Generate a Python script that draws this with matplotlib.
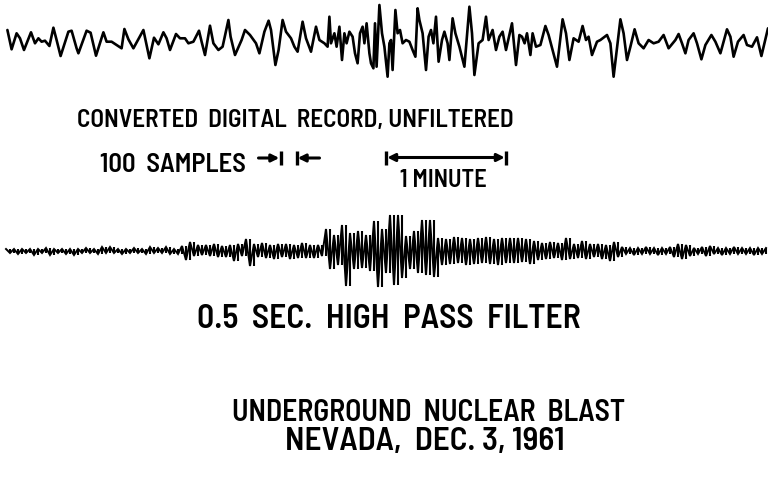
import numpy as np
import matplotlib
matplotlib.use("Agg")
import matplotlib.pyplot as plt
import matplotlib.font_manager as fm

# ---------------- data ----------------
# unfiltered record: time (s) and amplitude (arbitrary units)
raw_time_s = [0.7, 2.8, 5.3, 7, 9, 12.5, 14.5, 16.2, 17.8, 19.5, 21.7, 23.7, 25.3, 27.3, 31.2,
              32.8, 35.3, 36.2, 40.3, 42.3, 45, 48.7, 50.3, 52.8, 55.3, 57.8, 59.2, 61.2, 63.7,
              68.7, 71.7, 74, 76.2, 78.7, 80.3, 82, 85, 87, 89.5, 91.2, 93.7, 96.5, 97.8, 99.5,
              102, 103.7, 106.2, 108.3, 111.2, 112.3, 114.5, 117.8, 119.5, 122,
              125, 126.7, 129.2, 131.3, 132.5, 134.7, 136.3, 138.3, 140, 142.5, 144.2, 145.8,
              148.3, 150, 152.5, 155, 156.7, 159.2, 160.8, 161.7, 162.5, 164.2, 165.3, 166.7,
              168, 169.2, 170.3, 171.7, 173.3, 174.5, 175.8, 177, 178.3, 179.2, 180.3, 181.7,
              182.5, 183.7, 184.5, 185.3, 186.7, 188, 189.2, 190.8, 191.7, 192.5, 193.3, 194.7,
              195.8, 197, 198.3, 200, 201.7, 203.3, 204.7, 205.8, 206.7, 208.3, 210, 211.3,
              212.5, 213.7, 215, 216.3, 218, 219.2, 220.8, 221.7, 223.3, 224.7, 226.7, 229.2,
              231.7, 233, 234.2, 236.3, 238.3, 240, 241.3, 243.3, 245, 246.7, 248.3, 250,
              253, 255, 256.7, 258, 259.3, 260.5, 262.2, 263.3, 265, 267.2, 269.7, 271.3, 273.3,
              275.5, 278.3, 280, 281.7, 283.8, 286.3, 288.3, 290, 291.3, 293, 295.5, 297.2,
              300.5, 302.2, 303.8, 307.2, 308.8, 310.5, 312.2, 314.3, 316.3, 318.8, 321.3,
              323.8, 326.3, 328.8, 331.3, 334.7, 336.3, 338, 339.7, 341.3, 343.8, 345.5, 347.7,
              349.7, 352.7, 354.7, 357.2, 360.5, 362.2, 363.8, 366, 368.8, 370.5, 373, 375.5,
              377.7, 381]
raw_amp = [10, -9.3, 6.7, 1.7, -10, 7.7, -3.3, 1.7, -1.7, -0.7, -6, 12.3, 0, -16, 8.3,
           9.3, -8.3, -13.3, 9.3, 7.3, -15.7, 7.7, -1.7, -1.7, -5, -8.3, 11, 0.7, -8.3,
           10, -18.3, 2.3, -4.3, 7.7, 1.7, -10, 6, 1.7, 1.7, -3.3, -1.7, 9.3, -1.7, -15,
           14.3, -3.3, -10, -6.7, 20, 3.3, -15, 0, 10, 5,
           -3.3, -13.3, 8.3, 19.3, 10, -25, -10, 20, 8.3, 1.7, -6.7, -11.7,
           18.3, 1.7, -11.7, 13.3, 0, -3.3, -6.7, 23.3, -3.3, 6.7, -6.7, 13.3,
           -20, 6.7, -3.3, 8.3, 3.3, -13.3, -23.3, 6.7, 13.3, -3.3, 16.7, -13.3,
           -23.3, -28.3, 16.7, -26.7, 35, 6.7, -6.7, -36.7, -3.3, 0, -30, 30,
           6.7, 10, -3.3, 0, -1.7, -10, -16.7, 31.7, 20, 6.7, -30, 3.3,
           10, -3.3, 23.3, -21.7, 0, 8.3, -3.3, -20, 21.7, 6.7, -6.7, -26.7,
           33.3, 6.7, -35, -3.3, 0, 23.3, 0, 10, -10, 3.3, 8.3, -10,
           16.7, -25, 5, 3.3, -3.3, 6.7, -15, 6.7, -6.7, -5, 14, 5, -10,
           -26.7, 20.7, 6.7, -20, 1.7, -1.7, 14, 0, 3.3, -15, -1.7, 0,
           5, -3.3, -36.7, 20.7, 6.7, -20, -6.7, 10.7, -3.3, -8.3, 0,
           -3.3, -1.7, 5, -8.3, 0, 6, -3.3, -13.3, 0, 6.7, -3.3, -19.3,
           -5, 5, -1.7, -13.3, 10.7, 3.3, -16.7, -1.7, 5, -5, -6.7, 2.7,
           -16, 11.7]

# 0.5 s high-pass filtered record, one value every 2 s
filt_step_s = 2.0
filt_amp = [2, -2, 2, -3, 2, -2, 2, -4, 2, -2,
            3, -4, 2, -2, 2, -3, 2, -4, 2, -2,
            3, -2, 2, -3, 4, -2, 4, -2, 2, -3,
            2, -2, 3, -2, 2, -3, 4, -2, 3, -2,
            4, -3, 2, -3,
            5, -9, 9,
            -5, 6, -4, 6, -5, 7, -6, 5, -6,
            6, -10, 7, -5,
            12, -15,
            7, -6, 8, -7, 6, -8, 7, -6, 7, -8, 6, -7, 8, -7, 6, -7, 6, -5, 22,
            -18, 16, -14,
            26, -35, 18, -18, 20, -17, 16, -20, 30, -36, 22, -22, 36, -34, 36, -27,
            15, -18, 20, -22, 31, -24, 31, -26,
            13, -14, 12, -13, 14, -12, 13, -14, 12, -13, 13, -12, 14, -13, 12, -14, 13, -12, 13,
            -12, 13, -11, 12, -13, 10, -9, 8, -8, 9, -7, 8, -9,
            13,
            -8, 7, -7, 10, -8, 7, -6, 7, -8, 6, -10, 9, -6,
            4, -3, 3, -4, 3, -3, 4, -3, 3, -4, 3, -3, 4,
            -6, 7, -8, 6, -5,
            3, -3, 4, -5, 5, -3, 3, -4, 3, -3, 4, -3, 3, -3, 3, -4, 3, -3, 3]
filt_time_s = np.arange(len(filt_amp)) * filt_step_s

samples_per_s = 12.5
marker_samples = 100
minute_s = 60

# ---------------- font ----------------
names = {f.name for f in fm.fontManager.ttflist}
FONT = "DejaVu Sans"
for cand in ["Barlow Semi Condensed", "Roboto Condensed", "Liberation Sans Narrow",
             "DejaVu Sans"]:
    if cand in names:
        FONT = cand
        break

fig = plt.figure(figsize=(7.68, 4.86), dpi=100)
ax = fig.add_axes([0, 0, 1, 1])
# x: seconds, 2 px per second, record starts 6 px from the left
ax.set_xlim(-3, 381)
ax.set_ylim(0, 486)
ax.axis("off")


def px(xp, yp):
    return (xp - 6) / 2.0, 486 - yp


top_base = 486 - 40
filt_base = 486 - 251

ax.plot(raw_time_s, top_base + np.array(raw_amp), color="black", lw=1.9,
        solid_joinstyle="round", solid_capstyle="round")

fa = filt_base + np.array(filt_amp, dtype=float)
ax.plot(filt_time_s, fa, color="black", lw=1.4, solid_joinstyle="miter")
prev = np.concatenate([[fa[0]], fa[:-1]])
ax.vlines(filt_time_s, np.minimum(prev, fa), np.maximum(prev, fa), color="black", lw=1.5)

# scale markers
bar_lo, bar_hi = 486 - 165, 486 - 151
yline = 486 - 158
m_left = 137.25
m_right = m_left + marker_samples / samples_per_s
ax.plot([m_left, m_left], [bar_lo, bar_hi], color="black", lw=2.4, solid_capstyle="butt")
ax.plot([m_right, m_right], [bar_lo, bar_hi], color="black", lw=2.4, solid_capstyle="butt")
ap = dict(arrowstyle="-|>", lw=2.2, color="black", mutation_scale=11, shrinkA=0, shrinkB=0)
ax.annotate("", xy=(m_left - 0.6, yline), xytext=(m_left - 11, yline), arrowprops=ap)
ax.annotate("", xy=(m_right + 0.6, yline), xytext=(m_right + 11.5, yline), arrowprops=ap)

min_left = 190
min_right = min_left + minute_s
ax.plot([min_left, min_left], [bar_lo, bar_hi], color="black", lw=2.4, solid_capstyle="butt")
ax.plot([min_right, min_right], [bar_lo, bar_hi], color="black", lw=2.4, solid_capstyle="butt")
ap2 = dict(arrowstyle="<|-|>", lw=2.2, color="black", mutation_scale=11, shrinkA=0, shrinkB=0)
ax.annotate("", xy=(min_left + 0.6, yline + 0.5), xytext=(min_right - 0.6, yline + 0.5),
            arrowprops=ap2)

fig.canvas.draw()
renderer = fig.canvas.get_renderer()


def fit(s, x0, x1, yb):
    xd, yd = px(x0, yb)
    t = ax.text(xd, yd, s, fontsize=20, fontweight=600, family=FONT,
                ha="left", va="baseline", color="black")
    w = t.get_window_extent(renderer).width
    t.set_fontsize(20 * (x1 - x0) / w)
    return t


fit("CONVERTED  DIGITAL  RECORD, UNFILTERED", 77, 513, 127)
fit("100  SAMPLES", 100, 245, 172)
fit("1 MINUTE", 400, 487, 187)
fit("0.5  SEC.  HIGH  PASS  FILTER", 197, 580, 328)
fit("UNDERGROUND  NUCLEAR  BLAST", 232, 625, 421)
fit("NEVADA,  DEC. 3, 1961", 285, 565, 450)

fig.savefig("out.png", dpi=100)
